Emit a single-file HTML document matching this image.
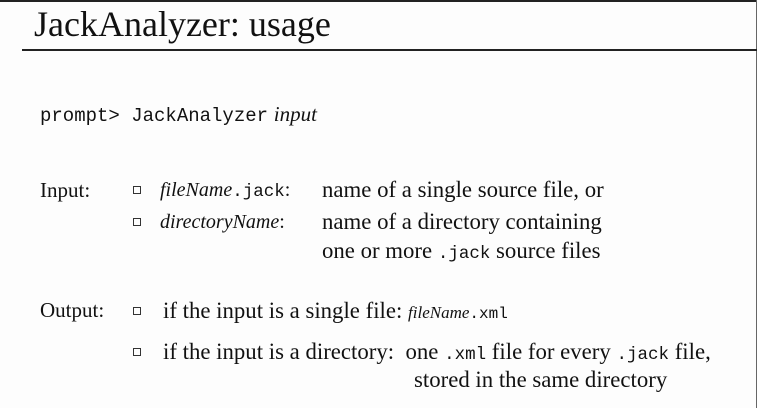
<!DOCTYPE html>
<html><head><meta charset="utf-8"><style>
body{margin:0;width:757px;height:408px;background:#fdfdfd;position:relative;overflow:hidden;font-family:"Liberation Serif",serif;color:#111}
.a{position:absolute;white-space:nowrap;line-height:26px;font-size:22.8px}
.m{font-family:"Liberation Mono",monospace;font-size:17.5px}
.b{display:inline-block;width:8px;height:8px;border:1.3px solid #333;box-sizing:border-box;vertical-align:3px}
i{font-style:italic}
</style></head><body>
<div style="position:absolute;left:0;top:0;width:757px;height:2px;background:#222"></div>
<div style="position:absolute;right:0;top:0;width:1px;height:408px;background:#666"></div>
<div class="a" style="left:34px;top:3px;font-size:36px;line-height:42px">JackAnalyzer: usage</div>
<div style="position:absolute;left:22px;top:49px;width:735px;height:2px;background:#222"></div>
<div class="a" style="left:40px;top:101px"><span class="m" style="font-size:19px">prompt&gt; JackAnalyzer</span> <i style="font-size:21px">input</i></div>
<div class="a" style="left:40px;top:177px;font-size:21px">Input:</div>
<div class="a" style="left:133px;top:177px"><span class="b"></span></div>
<div class="a" style="left:160px;top:177px;font-size:20px"><i>fileName</i><span class="m" style="font-size:17.5px">.jack</span>:</div>
<div class="a" style="left:322px;top:177px">name of a single source file, or</div>
<div class="a" style="left:133px;top:209px"><span class="b"></span></div>
<div class="a" style="left:160px;top:209px;font-size:20px"><i>directoryName</i>:</div>
<div class="a" style="left:322px;top:209px">name of a directory containing</div>
<div class="a" style="left:322px;top:238px">one or more <span class="m">.jack</span> source files</div>
<div class="a" style="left:40px;top:297px;font-size:21px">Output:</div>
<div class="a" style="left:133px;top:298px"><span class="b"></span></div>
<div class="a" style="left:163px;top:298px">if the input is a single file: <i style="font-size:17px">fileName</i><span class="m" style="font-size:16px">.xml</span></div>
<div class="a" style="left:133px;top:339px"><span class="b"></span></div>
<div class="a" style="left:163px;top:339px">if the input is a directory: &nbsp;one <span class="m">.xml</span> file for every <span class="m">.jack</span> file,</div>
<div class="a" style="left:414px;top:367px">stored in the same directory</div>
</body></html>
